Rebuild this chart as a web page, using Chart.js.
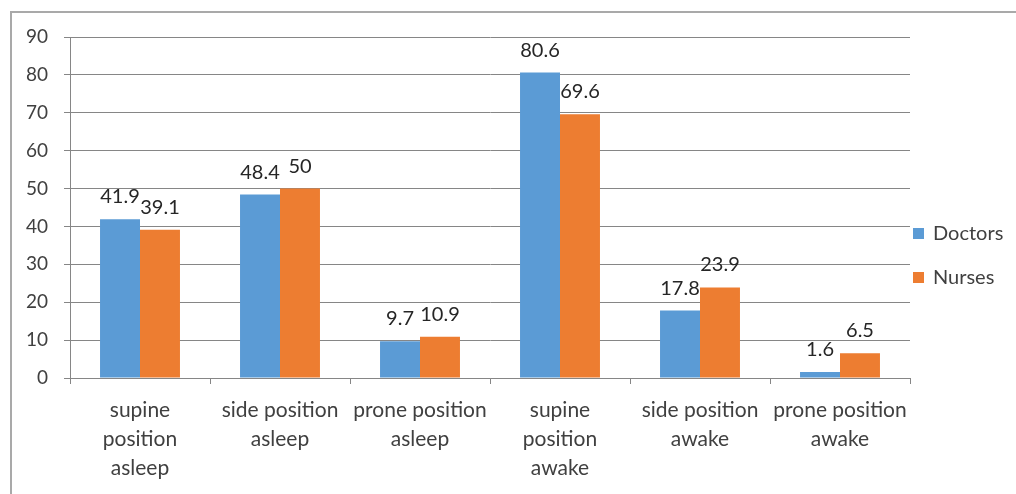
<!DOCTYPE html>
<html>
<head>
<meta charset="utf-8">
<script src="https://cdn.jsdelivr.net/npm/chart.js@4"></script>
<style>
  html, body { margin: 0; padding: 0; background: #fff; overflow: hidden; }
  #wrap { position: absolute; left: 0; top: 0; width: 1016px; height: 494px; }
  #frame { position: absolute; left: 10px; top: 11px; width: 1010px; height: 490px; z-index: 2;
           pointer-events: none; border-left: 2px solid #a9a9a9; border-top: 2px solid #a9a9a9; }
</style>
</head>
<body>
<div id="wrap"><canvas id="chart_positions"></canvas></div>
<div id="frame"></div>
<script>
var categories = [
    ['supine', 'position', 'asleep'],
    ['side position', 'asleep'],
    ['prone position', 'asleep'],
    ['supine', 'position', 'awake'],
    ['side position', 'awake'],
    ['prone position', 'awake']
];
var doctors = [41.9, 48.4, 9.7, 80.6, 17.8, 1.6];
var nurses = [39.1, 50, 10.9, 69.6, 23.9, 6.5];
var yTicks = [0, 10, 20, 30, 40, 50, 60, 70, 80, 90];

var textColor = '#404040';
var gridColor = '#868686';
var fontFamily = 'Lato, "Open Sans", sans-serif';

// value labels above every bar
var valueLabels = {
    id: 'valueLabels',
    afterDatasetsDraw: (chart) => {
        const ctx = chart.ctx;
        ctx.save();
        ctx.font = '20px ' + fontFamily;
        ctx.fillStyle = '#262626';
        ctx.textAlign = 'center';
        ctx.textBaseline = 'alphabetic';
        chart.data.datasets.forEach((ds, i) => {
            chart.getDatasetMeta(i).data.forEach((bar, j) => {
                ctx.fillText(String(ds.data[j]), bar.x, bar.y - 16);
            });
        });
        ctx.restore();
    }
};

// legend to the right of the plot, like the office chart
var sideLegend = {
    id: 'sideLegend',
    afterDraw: (chart) => {
        const ctx = chart.ctx;
        const x = chart.chartArea.right + 3;
        ctx.save();
        ctx.font = '20px ' + fontFamily;
        ctx.textBaseline = 'middle';
        chart.data.datasets.forEach((ds, i) => {
            const cy = 233.5 + i * 44;
            ctx.fillStyle = ds.backgroundColor;
            ctx.fillRect(x, cy - 5.5, 11, 11);
            ctx.fillStyle = textColor;
            ctx.fillText(ds.label, x + 20, cy);
        });
        ctx.restore();
    }
};

var chart_positions = new Chart(document.getElementById('chart_positions'), {
    type: 'bar',
    data: {
        labels: categories,
        datasets: [
            {
                label: 'Doctors',
                backgroundColor: '#5B9BD5',
                data: doctors
            },
            {
                label: 'Nurses',
                backgroundColor: '#ED7D31',
                data: nurses
            }
        ]
    },
    options: {
        animation: false,
        responsive: true,
        maintainAspectRatio: false,
        categoryPercentage: 0.571,
        barPercentage: 1,
        layout: {
            padding: { left: 10, top: 37, right: 106, bottom: 0 }
        },
        plugins: {
            legend: { display: false },
            tooltip: { enabled: false }
        },
        scales: {
            x: {
                grid: {
                    display: true,
                    offset: true,
                    drawOnChartArea: false,
                    drawTicks: true,
                    tickLength: 6,
                    color: gridColor
                },
                border: { display: true, color: gridColor, width: 1 },
                ticks: {
                    color: textColor,
                    padding: 12,
                    maxRotation: 0,
                    autoSkip: false,
                    font: { family: fontFamily, size: 21, lineHeight: 1.38 }
                },
                afterFit: (scale) => { scale.height = 116; }
            },
            y: {
                min: 0,
                max: 90,
                afterBuildTicks: (scale) => {
                    scale.ticks = yTicks.map(v => ({ value: v }));
                },
                grid: {
                    color: gridColor,
                    drawTicks: true,
                    tickLength: 6
                },
                border: { display: true, color: gridColor, width: 1 },
                ticks: {
                    color: textColor,
                    padding: 16,
                    font: { family: fontFamily, size: 19 }
                },
                afterFit: (scale) => { scale.width = 60; }
            }
        }
    },
    plugins: [valueLabels, sideLegend, {
        id: 'whiteBg',
        beforeDraw: (chart) => {
            const ctx = chart.canvas.getContext('2d');
            ctx.save();
            ctx.globalCompositeOperation = 'destination-over';
            ctx.fillStyle = 'white';
            ctx.fillRect(0, 0, chart.canvas.width, chart.canvas.height);
            ctx.restore();
        }
    }]
});
</script>
</body>
</html>
